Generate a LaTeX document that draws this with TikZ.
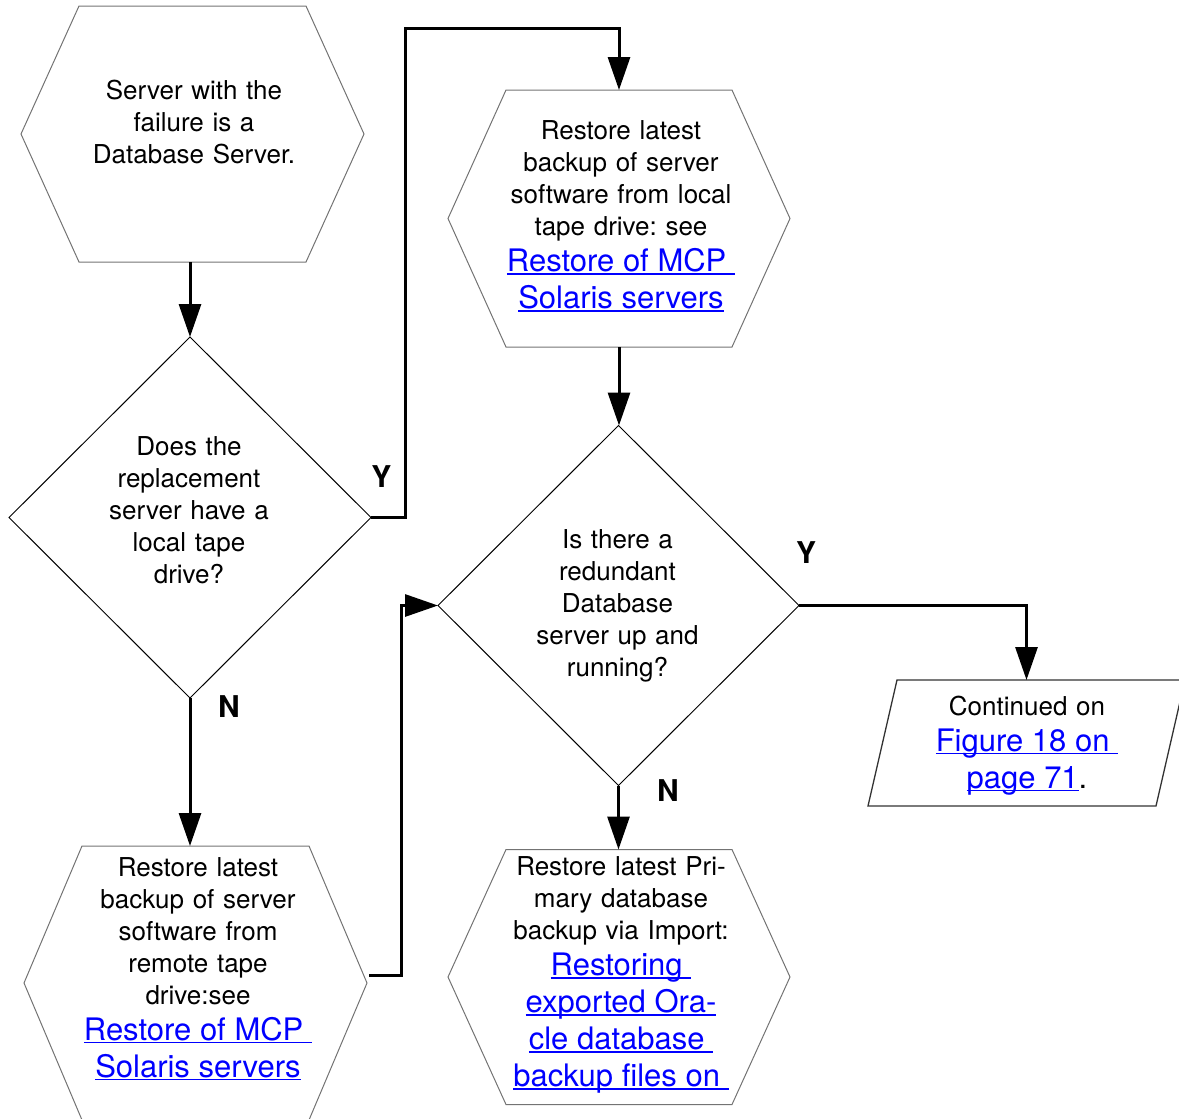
\documentclass[tikz,border=0pt]{standalone}
\usepackage{fontspec}
\setmainfont{TeX Gyre Heros}
\usetikzlibrary{shapes.geometric,arrows.meta,calc}

\definecolor{linkblue}{RGB}{0,0,255}

% Line spacing is carried by struts: body lines 22+10pt, link lines 26+11pt,
% with zero baselineskip so that the struts alone set the pitch.
\newcommand\bodyfont{\fontsize{26}{0}\selectfont}
\newcommand\linkfont{\fontsize{31}{0}\selectfont}
\newcommand\bs{\rule[-10pt]{0pt}{32pt}}
\newcommand\ls{\rule[-11pt]{0pt}{37pt}}

% blue, underlined cross reference (underline keeps trailing spaces)
\newsavebox\lnkbox
\newcommand\lnk[1]{\leavevmode\ls\sbox\lnkbox{\color{linkblue}#1}%
  {\color{linkblue}\rlap{\rule[-3.4pt]{\wd\lnkbox}{1.8pt}}}\usebox\lnkbox}

% hexagonal outline around a rectangular frame node
\newcommand\hexdraw[2]{%
  \draw[hexline] ($(#1.north west)+(#2,0)$) -- ($(#1.north east)+(-#2,0)$)
    -- (#1.east) -- ($(#1.south east)+(-#2,0)$)
    -- ($(#1.south west)+(#2,0)$) -- (#1.west) -- cycle;}

\begin{document}
\begin{tikzpicture}[x=1pt, y=-1pt,
  conn/.style={line width=3pt, line join=miter, -{Triangle[length=33pt,width=22pt]}},
  hexframe/.style={rectangle, inner sep=0pt, outer sep=0pt},
  hexline/.style={draw=black!55, line width=1pt, line join=miter},
  paraline/.style={draw=black!80, line width=1.3pt, line join=miter},
  decision/.style={diamond, draw=black, line width=1pt, inner sep=0pt, outer sep=0pt},
  txt/.style={align=center, text width=330pt, inner sep=0pt, outer sep=0pt,
    anchor=north, font={\bodyfont\parindent=0pt\lineskip=0pt\lineskiplimit=0pt\frenchspacing}},
  yn/.style={anchor=base, inner sep=0pt, outer sep=0pt,
    font=\fontsize{30}{36}\selectfont\bfseries}]

\useasboundingbox (0,0) rectangle (1179,1119);

% ---- shapes ----
\node[hexframe, minimum width=343pt, minimum height=256pt] (h1) at (192.5,134) {};
\node[hexframe, minimum width=342pt, minimum height=257pt] (h2) at (619,218.5) {};
\node[hexframe, minimum width=343pt, minimum height=274pt] (h3) at (195.5,983) {};
\node[hexframe, minimum width=342pt, minimum height=255pt] (h4) at (619,977) {};
\node[decision, minimum width=362pt, minimum height=361pt] (d1) at (190,517.5) {};
\node[decision, minimum width=361pt, minimum height=360pt] (d2) at (618.5,605.5) {};
\node[hexframe, minimum width=317pt, minimum height=126pt] (p) at (1026.5,743) {};

\hexdraw{h1}{58}
\hexdraw{h2}{58}
\hexdraw{h3}{58}
\hexdraw{h4}{58}
\draw[paraline] (p.south west) -- ($(p.north west)+(29,0)$) -- (p.north east)
  -- ($(p.south east)+(-29,0)$) -- cycle;

% ---- texts (node top = first baseline - 22pt) ----
\node[txt] (h1t) at (194,77.5) {\bs Server with the\\\bs failure is a\\\bs Database Server.};
\node[txt] (h2t) at (621,117.5) {\bs Restore latest\\\bs backup of server\\\bs software from local\\\bs tape drive: see\\\linkfont\lnk{Restore of MCP }\\\lnk{Solaris servers}};
\node[txt] (d1t) at (189,433) {\bs Does the\\\bs replacement\\\bs server have a\\\bs local tape\\\bs drive?};
\node[txt] (d2t) at (617.5,526.5) {\bs Is there a\\\bs redundant\\\bs Database\\\bs server up and\\\bs running?};
\node[txt] (h3t) at (198,854) {\bs Restore latest\\\bs backup of server\\\bs software from\\\bs remote tape\\\bs drive:see\\\linkfont\lnk{Restore of MCP }\\\lnk{Solaris servers}};
\node[txt] (h4t) at (621,853.5) {\bs Restore latest Pri-\\\bs mary database\\\bs backup via Import:\\\linkfont\lnk{Restoring }\\\lnk{exported Ora-}\\\lnk{cle database }\\\lnk{backup files on }};
\node[txt] (pt) at (1027,693) {\bs Continued on\\\linkfont\lnk{Figure 18 on }\\\lnk{page 71}.};

% ---- branch labels ----
\node[yn] (y1) at (381.5,487) {Y};
\node[yn] (n1) at (229,717) {N};
\node[yn] (y2) at (806,563) {Y};
\node[yn] (n2) at (668,801) {N};

% ---- connectors ----
\coordinate (jy) at (405,28);
\coordinate (s3) at ($(h3.east)+(2,-8)$);

\draw[conn] (h1.south -| d1.north) -- (d1.north);
\draw[conn] (d1.east) -| (jy) -| (h2.north);
\draw[conn] (h2.south) -- (h2.south |- d2.north);
\draw[conn] (d1.south) -- (d1.south |- h3.north);
\draw[conn] (s3) -| ($(d2.west)+(-37,0)$) -- (d2.west);
\draw[conn] (d2.east) -| (p.north);
\draw[conn] (d2.south) -- (d2.south |- h4.north);
\end{tikzpicture}
\end{document}
